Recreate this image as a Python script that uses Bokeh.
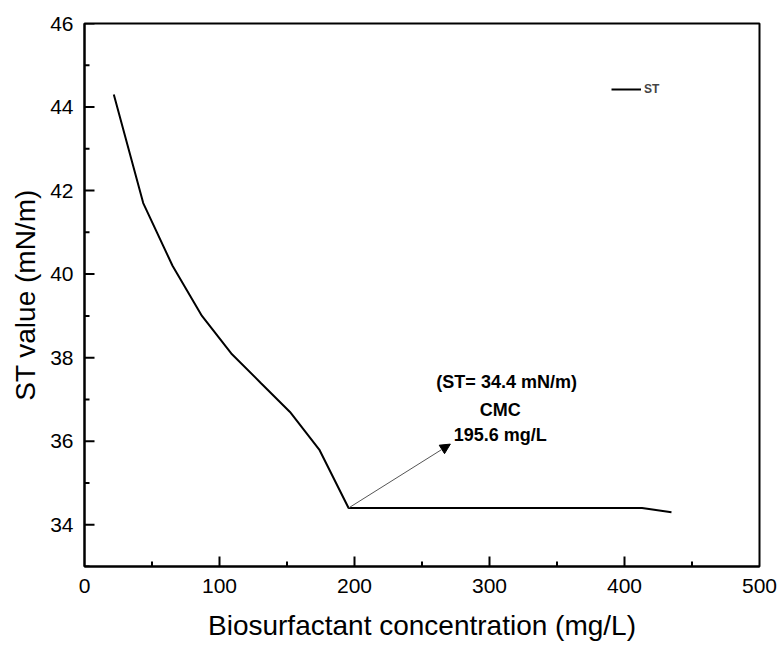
from bokeh.plotting import figure
from bokeh.models import (Range1d, SingleIntervalTicker, Arrow, NormalHead, Label,
                          Legend, LegendItem)
from bokeh.embed import file_html
from bokeh.resources import INLINE

# data
conc = [21.7, 43.5, 65.2, 87.0, 108.7, 130.4, 152.2, 173.9, 195.6,
        217.4, 239.1, 260.9, 282.6, 304.3, 326.1, 347.8, 369.6, 391.3, 413.0, 434.8]
st = [44.3, 41.7, 40.2, 39.0, 38.1, 37.4, 36.7, 35.8, 34.4,
      34.4, 34.4, 34.4, 34.4, 34.4, 34.4, 34.4, 34.4, 34.4, 34.4, 34.3]
cmc_x = 195.6
cmc_y = 34.4
arrow_end = (271.0, 35.93)
note_lines = ["(ST= 34.4 mN/m)", "CMC", "195.6 mg/L"]

x_major = [100, 200, 300, 400]
x_minor = [50, 150, 250, 350, 450]
y_major = [34, 36, 38, 40, 42, 44, 46]
y_minor = [33, 35, 37, 39, 41, 43, 45]
X0, X1, Y0, Y1 = 0, 500, 33, 46

W, H = 779, 646
BL, BR, BT, BB = 84, 20, 23, 80
FONT = "Liberation Sans"

p = figure(width=W, height=H, output_backend="svg", toolbar_location=None,
           x_range=Range1d(X0, X1), y_range=Range1d(Y0, Y1),
           min_border_left=BL, min_border_right=BR, min_border_top=BT, min_border_bottom=BB)
p.grid.visible = False
p.outline_line_color = "black"
p.outline_line_width = 2
p.background_fill_color = "white"
p.border_fill_color = "white"

p.xaxis.ticker = SingleIntervalTicker(interval=100, num_minor_ticks=2)
p.yaxis.ticker = SingleIntervalTicker(interval=2, num_minor_ticks=2)
for ax in (p.xaxis[0], p.yaxis[0]):
    ax.axis_line_width = 2
    ax.axis_line_color = "black"
    ax.major_tick_in = 0
    ax.major_tick_out = 0
    ax.minor_tick_in = 0
    ax.minor_tick_out = 0
    ax.major_label_text_font = FONT
    ax.major_label_text_font_size = "21px"
    ax.major_label_text_color = "black"
    ax.axis_label_text_font = FONT
    ax.axis_label_text_font_size = "28px"
    ax.axis_label_text_font_style = "normal"
    ax.axis_label_text_color = "black"

p.xaxis.axis_label = "Biosurfactant concentration (mg/L)"
p.yaxis.axis_label = "ST value (mN/m)"
p.xaxis.major_label_standoff = 12
p.yaxis.major_label_standoff = 11
p.xaxis.axis_label_standoff = 14
p.yaxis.axis_label_standoff = 6

# inward ticks, lengths in pixels converted to data units
ux = (X1 - X0) / (W - BL - BR)
uy = (Y1 - Y0) / (H - BT - BB)
for xs, ln in ((x_major, 10), (x_minor, 5)):
    p.segment(x0=xs, y0=[Y0] * len(xs), x1=xs, y1=[Y0 + ln * uy] * len(xs),
              line_color="black", line_width=2)
for ys, ln in ((y_major, 10), (y_minor, 5)):
    p.segment(x0=[X0] * len(ys), y0=ys, x1=[X0 + ln * ux] * len(ys), y1=ys,
              line_color="black", line_width=2)

r = p.line(conc, st, line_color="black", line_width=2)

p.add_layout(Arrow(end=NormalHead(size=10, fill_color="black", line_color="black"),
                   x_start=cmc_x, y_start=cmc_y, x_end=arrow_end[0], y_end=arrow_end[1],
                   line_color="#555555", line_width=1))

label_pos = [(312.7, 37.42), (308.0, 36.74), (308.0, 36.16)]
for txt, (lx, ly) in zip(note_lines, label_pos):
    p.add_layout(Label(x=lx, y=ly, text=txt, text_font=FONT, text_font_size="18px",
                       text_font_style="bold", text_align="center", text_baseline="middle",
                       text_color="black"))

legend = Legend(items=[LegendItem(label="ST", renderers=[r])], location=(527, 470),
                label_text_font=FONT, label_text_font_size="12px", label_text_font_style="bold",
                glyph_width=30, glyph_height=10, label_standoff=3, padding=4, margin=0,
                border_line_color=None, background_fill_alpha=0, label_height=10)
p.add_layout(legend)

open("out.html", "w").write(file_html(p, INLINE))
